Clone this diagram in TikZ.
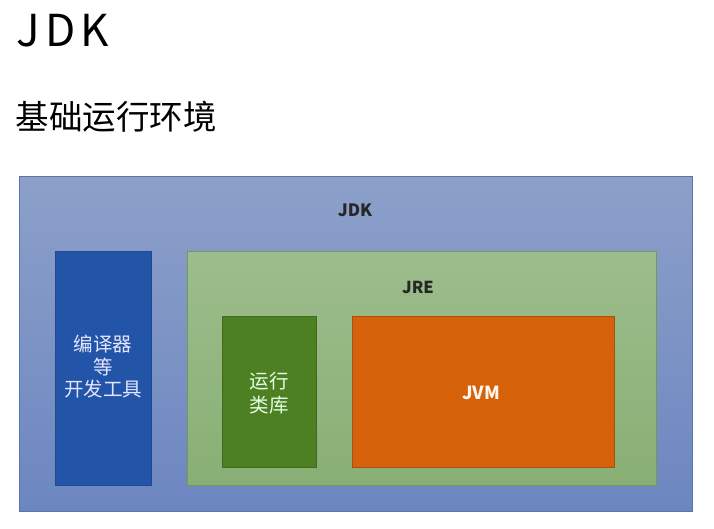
\documentclass[tikz,border=0pt]{standalone}
\usepackage{fontspec}
\setmainfont{Noto Sans CJK SC}
\newfontfamily\cjk{Noto Sans CJK SC}
\definecolor{jdktop}{HTML}{8CA0C9}
\definecolor{jdkbot}{HTML}{6C86C0}
\definecolor{jdkline}{HTML}{5874A8}
\definecolor{toolblue}{HTML}{2255A8}
\definecolor{toolline}{HTML}{1E4A90}
\definecolor{jretop}{HTML}{9DBD8D}
\definecolor{jrebot}{HTML}{88AF74}
\definecolor{jreline}{HTML}{6F9A58}
\definecolor{libgreen}{HTML}{4D7F23}
\definecolor{libline}{HTML}{3F6A1C}
\definecolor{jvmorange}{HTML}{D6610B}
\definecolor{jvmline}{HTML}{A9500E}

\begin{document}
\begin{tikzpicture}[x=1pt, y=-1pt, font=\cjk]
    % pixel coordinates of the 714x528 screenshot, origin top-left
    \useasboundingbox (0,0) rectangle (714,528);

    % --- Titles ---
    \node[anchor=west, font=\cjk\fontsize{44}{48}\selectfont\addfontfeature{LetterSpace=12}] (title) at (13,31) {JDK};
    \node[anchor=west, font=\cjk\fontsize{33.5}{36}\selectfont] (subtitle) at (12,117) {基础运行环境};

    % --- Boxes ---
    \draw[jdkline, top color=jdktop, bottom color=jdkbot] (19,176) rectangle (692,511); % JDK
    \draw[toolline, fill=toolblue] (55,251) rectangle (151,485); % tools
    \draw[jreline, top color=jretop, bottom color=jrebot] (187,251) rectangle (656,485); % JRE
    \draw[libline, fill=libgreen] (222,316) rectangle (316,467); % class library
    \draw[jvmline, fill=jvmorange] (352,316) rectangle (614,467); % JVM

    % --- Labels ---
    \node[font=\cjk\fontsize{17}{19}\selectfont\bfseries, text=black!85] (jdk) at (355,210) {JDK};
    \node[font=\cjk\fontsize{16.5}{19}\selectfont\bfseries, text=black!85] (jre) at (418,287) {JRE};
    \node[font=\cjk\fontsize{18}{20}\selectfont\bfseries, text=white!92!orange] (jvm) at (481,393) {JVM};

    \node[align=center, text=white!90!blue, font=\cjk\fontsize{19.5}{22.5}\selectfont] (tools) at (103,367) {编译器\\等\\开发工具};
    \node[align=center, text=white!90!green, font=\cjk\fontsize{19.5}{24}\selectfont] (lib) at (269,393) {运行\\类库};

\end{tikzpicture}
\end{document}
